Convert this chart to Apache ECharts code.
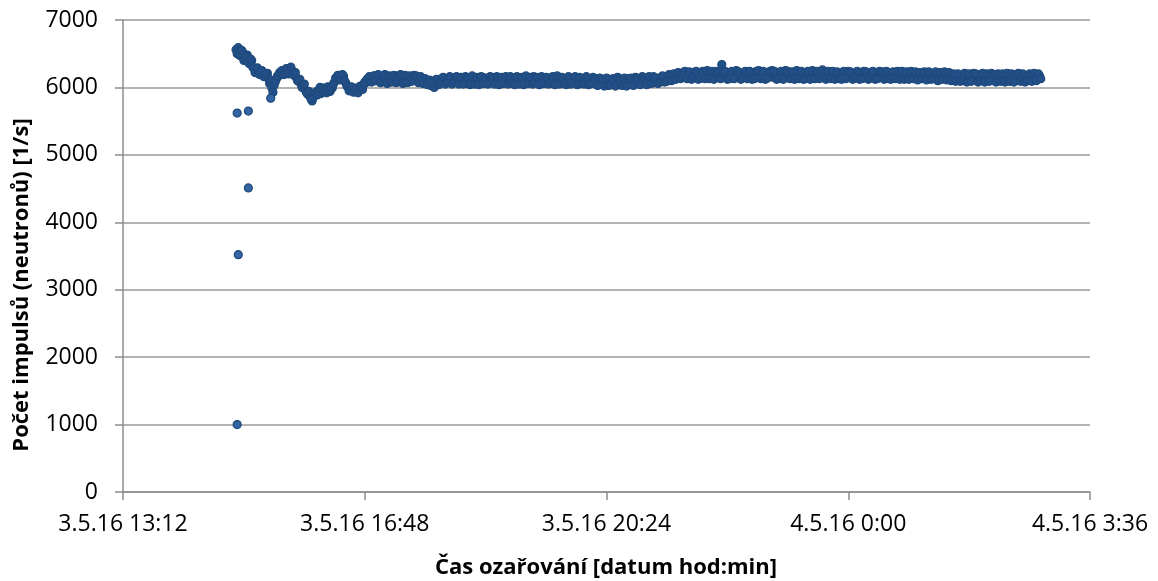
<!DOCTYPE html>
<html><head><meta charset="utf-8">
<script src="https://cdn.jsdelivr.net/npm/echarts@6/dist/echarts.min.js"></script>
<style>html,body{margin:0;padding:0;background:#fff}#c{width:1158px;height:581px}</style>
</head><body><div id="c"></div>
<script>
// ---- data ----
const axisOrigin = '3.5.16 13:12';
const xTickLabels = ['3.5.16 13:12', '3.5.16 16:48', '3.5.16 20:24', '4.5.16 0:00', '4.5.16 3:36'];
const xTickStepMin = 216;
const yTicks = [0, 1000, 2000, 3000, 4000, 5000, 6000, 7000];
const xTitle = 'Čas ozařování [datum hod:min]';
const yTitle = 'Počet impulsů (neutronů) [1/s]';

// main measurement: one reading per minute starting at bandStart.
// readingsA = minutes 0,2,4,...  readingsB = minutes 1,3,5,...
const bandStart = '3.5.16 14:53';
const readingsA = [
  6560, 6590, 6470, 6520, 6430, 6480, 6350, 6400, 6280, 6230, 6260, 6200, 6230, 6170, 6210, 6060, 5990, 6030, 6120, 6170,
  6190, 6240, 6210, 6260, 6230, 6250, 6180, 6140, 6090, 6050, 6010, 5960, 5900, 5870, 5800, 5880, 5930, 5960, 5910, 5990,
  5970, 6010, 5940, 5990, 6080, 6120, 6160, 6140, 6170, 6070, 6010, 5970, 5990, 5940, 5980, 5960, 6010, 6040, 6070, 6110,
  6140, 6090, 6170, 6120, 6150, 6080, 6130, 6160, 6100, 6140, 6110, 6170, 6090, 6120, 6150, 6100, 6130, 6080, 6140, 6120,
  6110, 6150, 6090, 6120, 6070, 6100, 6050, 6030, 6070, 6060, 6090, 6120, 6080, 6110, 6130, 6070, 6100, 6140, 6090, 6110,
  6080, 6130, 6100, 6060, 6120, 6090, 6140, 6070, 6110, 6100, 6150, 6080, 6120, 6060, 6100, 6130, 6090, 6110, 6070, 6140,
  6100, 6120, 6080, 6150, 6110, 6090, 6130, 6070, 6120, 6100, 6140, 6080, 6110, 6160, 6090, 6120, 6100, 6130, 6070, 6110,
  6140, 6090, 6120, 6100, 6150, 6080, 6110, 6130, 6060, 6100, 6140, 6090, 6120, 6080, 6110, 6130, 6070, 6100, 6120, 6090,
  6060, 6100, 6080, 6050, 6110, 6070, 6090, 6120, 6060, 6080, 6100, 6040, 6090, 6110, 6070, 6100, 6080, 6120, 6090, 6060,
  6100, 6120, 6080, 6110, 6090, 6130, 6100, 6070, 6120, 6140, 6100, 6130, 6150, 6110, 6160, 6140, 6190, 6150, 6180, 6210,
  6170, 6200, 6150, 6190, 6220, 6160, 6180, 6210, 6140, 6190, 6170, 6230, 6160, 6200, 6180, 6150, 6210, 6340, 6170, 6190,
  6200, 6160, 6220, 6180, 6150, 6190, 6210, 6170, 6230, 6160, 6190, 6200, 6140, 6180, 6210, 6170, 6190, 6220, 6160, 6180,
  6150, 6190, 6210, 6170, 6200, 6160, 6180, 6220, 6140, 6190, 6170, 6210, 6160, 6200, 6180, 6150, 6190, 6170, 6210, 6180,
  6200, 6160, 6260, 6180, 6150, 6200, 6170, 6190, 6140, 6210, 6180, 6160, 6200, 6170, 6150, 6190, 6210, 6160, 6180, 6200,
  6170, 6140, 6190, 6210, 6160, 6180, 6200, 6150, 6170, 6190, 6160, 6210, 6180, 6140, 6190, 6170, 6200, 6160, 6180, 6150,
  6190, 6170, 6210, 6160, 6180, 6140, 6200, 6170, 6190, 6150, 6180, 6210, 6160, 6170, 6130, 6190, 6160, 6180, 6150, 6170,
  6140, 6170, 6120, 6160, 6180, 6130, 6150, 6100, 6170, 6140, 6120, 6160, 6190, 6130, 6150, 6110, 6170, 6140, 6120, 6160,
  6130, 6180, 6110, 6150, 6140, 6170, 6120, 6160, 6100, 6150, 6180, 6130, 6140, 6170, 6120, 6160, 6150, 6190, 6140, 6170
];
const readingsB = [
  6500, 6480, 6550, 6400, 6460, 6370, 6420, 6300, 6220, 6290, 6190, 6250, 6160, 6200, 6130, 6110, 5930, 6080, 6170, 6220,
  6250, 6190, 6280, 6200, 6300, 6190, 6220, 6100, 6120, 6000, 6050, 5920, 5940, 5830, 5850, 5930, 5890, 6000, 5970, 5940,
  5920, 5960, 6000, 6050, 6140, 6180, 6110, 6190, 6100, 6020, 5950, 6010, 5930, 5990, 5920, 6020, 5970, 6080, 6120, 6160,
  6080, 6170, 6100, 6190, 6070, 6160, 6190, 6060, 6170, 6080, 6180, 6070, 6160, 6190, 6060, 6180, 6070, 6170, 6090, 6180,
  6170, 6070, 6160, 6060, 6130, 6040, 6110, 6080, 6000, 6120, 6040, 6070, 6150, 6050, 6080, 6160, 6050, 6080, 6160, 6050,
  6150, 6050, 6160, 6140, 6040, 6170, 6050, 6150, 6040, 6160, 6060, 6140, 6050, 6160, 6150, 6050, 6160, 6040, 6150, 6060,
  6160, 6050, 6160, 6060, 6040, 6160, 6050, 6150, 6040, 6170, 6060, 6150, 6050, 6070, 6150, 6040, 6160, 6060, 6150, 6050,
  6060, 6160, 6040, 6170, 6050, 6150, 6060, 6040, 6160, 6050, 6070, 6160, 6040, 6150, 6060, 6050, 6160, 6040, 6060, 6150,
  6130, 6030, 6140, 6120, 6020, 6140, 6030, 6040, 6130, 6020, 6150, 6110, 6030, 6140, 6020, 6130, 6140, 6030, 6150, 6120,
  6040, 6160, 6140, 6040, 6160, 6060, 6160, 6140, 6060, 6080, 6170, 6080, 6090, 6190, 6100, 6200, 6120, 6220, 6130, 6150,
  6240, 6130, 6230, 6120, 6150, 6240, 6120, 6140, 6240, 6130, 6250, 6130, 6240, 6120, 6240, 6230, 6130, 6200, 6240, 6120,
  6130, 6240, 6130, 6250, 6230, 6120, 6140, 6240, 6130, 6240, 6120, 6130, 6240, 6250, 6130, 6240, 6120, 6140, 6240, 6250,
  6240, 6120, 6130, 6240, 6120, 6250, 6240, 6130, 6230, 6120, 6250, 6130, 6240, 6120, 6130, 6240, 6120, 6250, 6130, 6240,
  6130, 6240, 6150, 6120, 6240, 6130, 6240, 6120, 6230, 6130, 6120, 6240, 6130, 6240, 6230, 6120, 6140, 6240, 6120, 6130,
  6240, 6230, 6120, 6140, 6240, 6120, 6130, 6240, 6230, 6120, 6240, 6130, 6120, 6230, 6130, 6240, 6120, 6240, 6120, 6230,
  6120, 6240, 6130, 6230, 6110, 6220, 6130, 6230, 6110, 6230, 6120, 6130, 6230, 6100, 6220, 6120, 6230, 6110, 6220, 6100,
  6200, 6090, 6200, 6090, 6100, 6210, 6080, 6200, 6090, 6210, 6200, 6080, 6100, 6210, 6080, 6200, 6090, 6210, 6190, 6080,
  6200, 6090, 6200, 6080, 6210, 6090, 6200, 6080, 6190, 6210, 6090, 6200, 6080, 6100, 6200, 6090, 6210, 6100, 6200, 6130
];

// start-up readings that lie off the main band
const outlierTimes = ['3.5.16 14:54', '3.5.16 14:55', '3.5.16 15:04', '3.5.16 14:54', '3.5.16 15:04', '3.5.16 15:24'];
const outlierValues = [1000, 3520, 4510, 5620, 5650, 5840];

// ---- helpers ----
function toMinutes(s) {
  const [d, t] = s.split(' ');
  const [day, mon, yr] = d.split('.').map(Number);
  const [h, m] = t.split(':').map(Number);
  return Date.UTC(2000 + yr, mon - 1, day, h, m) / 60000;
}
const origin = toMinutes(axisOrigin);
const start = toMinutes(bandStart) - origin;
const bandPoints = [];
readingsA.forEach((v, i) => bandPoints.push([start + 2 * i, v]));
readingsB.forEach((v, i) => bandPoints.push([start + 2 * i + 1, v]));
const outlierPoints = outlierTimes.map((t, i) => [toMinutes(t) - origin, outlierValues[i]]);

const FONT = 'Open Sans';
const chart = echarts.init(document.getElementById('c'), null, { renderer: 'canvas' });
chart.setOption({
  animation: false,
  backgroundColor: '#fff',
  grid: { left: 123, right: 68, top: 20, bottom: 89, containLabel: false },
  xAxis: {
    type: 'value',
    min: 0,
    max: xTickStepMin * (xTickLabels.length - 1),
    interval: xTickStepMin,
    axisLine: { show: true, onZero: false, lineStyle: { color: '#8c8c8c', width: 1.5 } },
    axisTick: { show: true, length: 8, lineStyle: { color: '#8c8c8c', width: 1.5 } },
    axisLabel: {
      color: '#000', fontFamily: FONT, fontSize: 23, margin: 21,
      formatter: v => xTickLabels[Math.round(v / xTickStepMin)]
    },
    splitLine: { show: false }
  },
  yAxis: {
    type: 'value',
    min: yTicks[0],
    max: yTicks[yTicks.length - 1],
    interval: yTicks[1] - yTicks[0],
    axisLine: { show: true, lineStyle: { color: '#8c8c8c', width: 1.5 } },
    axisTick: { show: true, length: 8, lineStyle: { color: '#8c8c8c', width: 1.5 } },
    axisLabel: { color: '#000', fontFamily: FONT, fontSize: 23, margin: 25, formatter: v => String(v) },
    splitLine: { show: true, lineStyle: { color: '#9a9a9a', width: 1.5 } }
  },
  series: [{
    type: 'scatter',
    data: bandPoints,
    symbol: 'circle',
    symbolSize: 8,
    itemStyle: { color: '#224f87', borderColor: '#1f4a7c', borderWidth: 1.2, opacity: 1 }
  }, {
    type: 'scatter',
    data: outlierPoints,
    symbol: 'circle',
    symbolSize: 8,
    itemStyle: { color: '#3465a2', borderColor: '#1f4a7c', borderWidth: 1.2, opacity: 1 }
  }],
  graphic: [
    { type: 'text', x: 606, y: 557,
      style: { text: xTitle, font: 'bold 22px "Open Sans"', fill: '#000', align: 'center', verticalAlign: 'top' } },
    { type: 'text', x: 11, y: 285, rotation: Math.PI / 2,
      style: { text: yTitle, font: 'bold 22px "Open Sans"', fill: '#000', align: 'center', verticalAlign: 'top' } }
  ]
});
</script>
</body></html>
